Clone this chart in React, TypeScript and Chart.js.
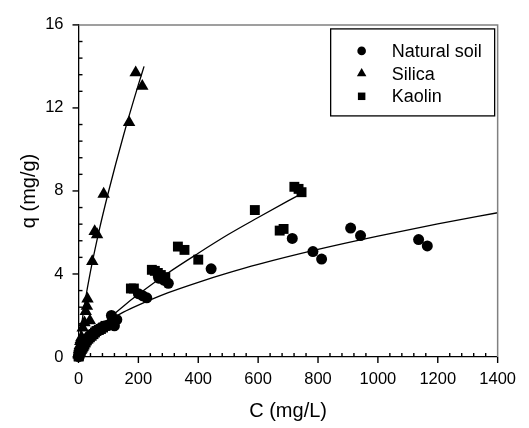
import { useEffect, useRef } from "react";
import { Chart, registerables } from "chart.js";
Chart.register(...registerables);

// ---------- data ----------
const naturalC = [0.5, 1, 2, 3, 5, 6, 8, 10, 13, 15, 18, 22, 26, 30, 35, 40, 45, 50, 56, 62, 70, 75, 82, 90, 98, 105, 110, 120, 128, 200, 215, 228, 268, 285, 300, 443, 714, 783, 812, 909, 942, 1136, 1165];
const naturalQ = [0.02, 0.05, 0.1, 0.15, 0.22, 0.3, 0.38, 0.45, 0.52, 0.6, 0.66, 0.75, 0.82, 0.9, 0.98, 1.05, 1.1, 1.15, 1.22, 1.3, 1.36, 1.4, 1.45, 1.5, 1.52, 1.55, 2.0, 1.5, 1.8, 3.05, 2.95, 2.85, 3.8, 3.7, 3.55, 4.25, 5.71, 5.08, 4.72, 6.21, 5.85, 5.66, 5.35];

const silicaC = [0.5, 1, 2, 3, 4, 6, 8, 10, 14, 20, 24, 28, 30, 38, 46, 54, 62, 84, 169, 191, 213];
const silicaQ = [0.1, 0.2, 0.35, 0.45, 0.55, 0.75, 0.85, 0.95, 1.4, 1.65, 2.2, 2.45, 2.8, 1.75, 4.6, 6.05, 5.9, 7.85, 11.3, 13.7, 13.05];

const kaolinC = [0.5, 1, 2, 4, 6, 8, 11, 14, 17, 20, 24, 28, 33, 38, 44, 50, 55, 60, 68, 75, 82, 90, 175, 185, 245, 255, 265, 275, 290, 332, 354, 400, 589, 672, 685, 721, 735, 745];
const kaolinQ = [0.02, 0.05, 0.1, 0.2, 0.25, 0.3, 0.38, 0.45, 0.52, 0.6, 0.7, 0.8, 0.88, 0.95, 1.02, 1.1, 1.18, 1.25, 1.3, 1.35, 1.42, 1.5, 3.3, 3.3, 4.2, 4.15, 4.05, 3.95, 3.85, 5.32, 5.16, 4.69, 7.08, 6.09, 6.17, 8.2, 8.1, 7.94];

// fitted curves
const naturalFitC = [0, 5, 10, 20, 40, 70, 100, 150, 200, 300, 400, 500, 600, 800, 1000, 1200, 1400];
const naturalFitQ = [0, 0.36, 0.52, 0.75, 1.08, 1.45, 1.74, 2.16, 2.5, 3.1, 3.6, 4.05, 4.46, 5.18, 5.82, 6.41, 6.95];

const silicaFitC = [0, 2, 5, 10, 20, 40, 70, 100, 150, 200, 219];
const silicaFitQ = [0, 0.48, 0.92, 1.52, 2.5, 4.12, 6.16, 7.95, 10.66, 13.12, 14.0];

const kaolinFitC = [0, 5, 10, 20, 40, 70, 100, 150, 200, 300, 400, 500, 600, 700, 740];
const kaolinFitQ = [0, 0.21, 0.34, 0.57, 0.94, 1.41, 1.83, 2.45, 3.02, 4.06, 5.0, 5.9, 6.72, 7.52, 7.83];

const xTickLabels = [0, 200, 400, 600, 800, 1000, 1200, 1400];
const yTickLabels = [0, 4, 8, 12, 16];
const xMinorStep = 40;
const yMinorStep = 0.8;

const seriesNames = ["Natural soil", "Silica", "Kaolin"];

const FONT = "'Liberation Sans', Arial, Helvetica, sans-serif";

const pts = (xs: number[], ys: number[]) => xs.map((x, i) => ({ x, y: ys[i] }));

function drawMarker(ctx: CanvasRenderingContext2D, style: string, x: number, y: number, r: number) {
  ctx.beginPath();
  if (style === "circle") {
    ctx.arc(x, y, r, 0, Math.PI * 2);
  } else if (style === "triangle") {
    ctx.moveTo(x, y - r);
    ctx.lineTo(x + r * 0.866, y + r * 0.5);
    ctx.lineTo(x - r * 0.866, y + r * 0.5);
    ctx.closePath();
  } else {
    ctx.rect(x - r * 0.78, y - r * 0.78, r * 1.56, r * 1.56);
  }
  ctx.fill();
}

const framePlugin = {
  id: "frameTicksLegend",
  afterDraw(chart: any) {
    const { ctx, chartArea } = chart;
    const xs = chart.scales.x;
    const ys = chart.scales.y;
    ctx.save();
    // top & right frame
    ctx.strokeStyle = "#808080";
    ctx.lineWidth = 1.5;
    ctx.beginPath();
    ctx.moveTo(chartArea.left, chartArea.top);
    ctx.lineTo(chartArea.right, chartArea.top);
    ctx.lineTo(chartArea.right, chartArea.bottom);
    ctx.stroke();

    ctx.strokeStyle = "#000";
    ctx.lineWidth = 1.4;
    // x ticks
    const nx = Math.round(xs.max / xMinorStep);
    for (let i = 0; i <= nx; i++) {
      const v = i * xMinorStep;
      const px = xs.getPixelForValue(v);
      const major = xTickLabels.includes(v);
      ctx.beginPath();
      if (major) {
        ctx.moveTo(px, chartArea.bottom);
        ctx.lineTo(px, chartArea.bottom + 6);
      } else {
        ctx.moveTo(px, chartArea.bottom);
        ctx.lineTo(px, chartArea.bottom - 4);
      }
      ctx.stroke();
    }
    // y ticks
    const ny = Math.round(ys.max / yMinorStep);
    for (let i = 0; i <= ny; i++) {
      const v = i * yMinorStep;
      const py = ys.getPixelForValue(v);
      const major = i % 5 === 0;
      ctx.beginPath();
      if (major) {
        ctx.moveTo(chartArea.left, py);
        ctx.lineTo(chartArea.left - 6, py);
      } else {
        ctx.moveTo(chartArea.left, py);
        ctx.lineTo(chartArea.left + 4, py);
      }
      ctx.stroke();
    }

    // legend
    const bx = chartArea.right - 167;
    const by = chartArea.top + 4;
    const bw = 164;
    const bh = 87;
    ctx.fillStyle = "#fff";
    ctx.fillRect(bx, by, bw, bh);
    ctx.strokeStyle = "#000";
    ctx.lineWidth = 1.3;
    ctx.strokeRect(bx, by, bw, bh);
    const styles = ["circle", "triangle", "rect"];
    const sizes = [4.3, 5.5, 4.8];
    ctx.font = `18px ${FONT}`;
    ctx.textBaseline = "middle";
    ctx.textAlign = "left";
    seriesNames.forEach((name, i) => {
      const cy = by + 22 + i * 22.7;
      ctx.fillStyle = "#000";
      drawMarker(ctx, styles[i], bx + 31, cy, sizes[i]);
      ctx.fillText(name, bx + 61, cy + 1);
    });
    ctx.restore();
  },
};

export default function App() {
  const ref = useRef<HTMLCanvasElement>(null);
  useEffect(() => {
    document.body.style.margin = "0";
    const canvas = ref.current!;
    const lineDs = (xs: number[], ys: number[]) => ({
      type: "line" as const,
      data: pts(xs, ys),
      borderColor: "#000",
      borderWidth: 1.3,
      pointRadius: 0,
      fill: false,
      cubicInterpolationMode: "monotone" as const,
      showLine: true,
    });
    const chart = new Chart(canvas, {
      type: "scatter",
      data: {
        datasets: [
          lineDs(naturalFitC, naturalFitQ),
          lineDs(silicaFitC, silicaFitQ),
          lineDs(kaolinFitC, kaolinFitQ),
          {
            label: seriesNames[0],
            data: pts(naturalC, naturalQ),
            pointStyle: "circle",
            pointRadius: 5.5,
            backgroundColor: "#000",
            borderColor: "#000",
            borderWidth: 0,
          },
          {
            label: seriesNames[1],
            data: pts(silicaC, silicaQ),
            pointStyle: "triangle",
            pointRadius: 7.2,
            backgroundColor: "#000",
            borderColor: "#000",
            borderWidth: 0,
          },
          {
            label: seriesNames[2],
            data: pts(kaolinC, kaolinQ),
            pointStyle: "rect",
            pointRadius: 7,
            backgroundColor: "#000",
            borderColor: "#000",
            borderWidth: 0,
          },
        ] as any,
      },
      options: {
        animation: false,
        responsive: false,
        clip: false as any,
        layout: { padding: { top: 17, right: 25, left: 0, bottom: 0 } },
        plugins: { legend: { display: false }, tooltip: { enabled: false } },
        scales: {
          x: {
            type: "linear",
            min: 0,
            max: 1400,
            afterBuildTicks: (s: any) => {
              s.ticks = xTickLabels.map((v) => ({ value: v }));
            },
            afterFit: (s: any) => {
              s.height = 71;
            },
            grid: { display: false, drawTicks: false },
            border: { display: true, color: "#000", width: 1.3 },
            ticks: {
              color: "#000",
              font: { family: FONT, size: 16.5 },
              padding: 13,
              maxRotation: 0,
              callback: (v: any) => String(v),
            },
            title: {
              display: true,
              text: "C (mg/L)",
              color: "#000",
              font: { family: FONT, size: 20 },
              padding: { top: 0, bottom: 5 },
            },
          },
          y: {
            type: "linear",
            min: 0,
            max: 16,
            afterBuildTicks: (s: any) => {
              s.ticks = yTickLabels.map((v) => ({ value: v }));
            },
            afterFit: (s: any) => {
              s.width = 78.5;
            },
            grid: { display: false, drawTicks: false },
            border: { display: true, color: "#000", width: 1.3 },
            ticks: {
              color: "#000",
              font: { family: FONT, size: 16.5 },
              padding: 15,
              callback: (v: any) => String(v),
            },
            title: {
              display: true,
              text: "q (mg/g)",
              color: "#000",
              font: { family: FONT, size: 20 },
              padding: { top: 17, bottom: 0 },
            },
          },
        },
      } as any,
      plugins: [framePlugin],
    });
    return () => chart.destroy();
  }, []);
  return (
    <div style={{ width: 529, height: 428 }}>
      <canvas ref={ref} width={529} height={428} style={{ display: "block", width: 529, height: 428 }} />
    </div>
  );
}
